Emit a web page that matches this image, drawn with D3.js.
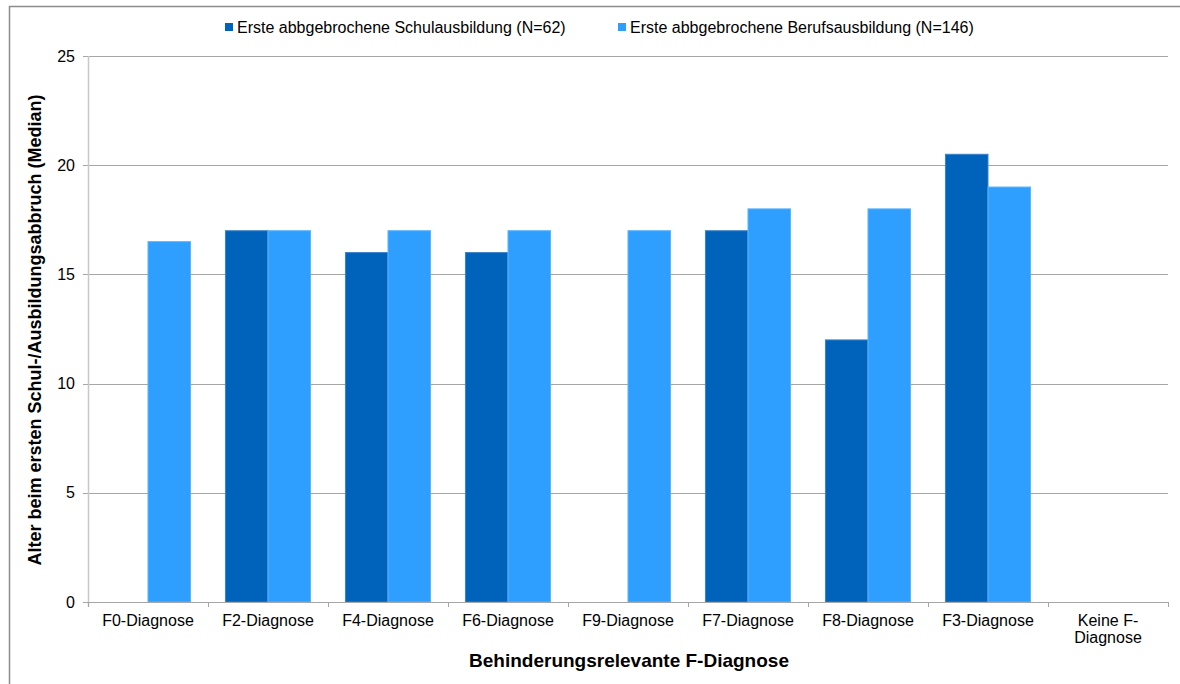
<!DOCTYPE html>
<html>
<head>
<meta charset="utf-8">
<script src="https://cdn.jsdelivr.net/npm/d3@7"></script>
<style>
  body { margin: 0; background: #fff; }
  text { font-family: "Liberation Sans", Arial, sans-serif; fill: #000; }
</style>
</head>
<body>
<svg id="chart" width="1180" height="684"></svg>
<script>
// Kategorien und Werte (Median)
var kategorien = ["F0-Diagnose", "F2-Diagnose", "F4-Diagnose", "F6-Diagnose", "F9-Diagnose",
                  "F7-Diagnose", "F8-Diagnose", "F3-Diagnose", "Keine F-Diagnose"];
var schule = [null, 17, 16, 16, null, 17, 12, 20.5, null];
var beruf = [16.5, 17, 17, 17, 17, 18, 18, 19, null];
var serien = ["Erste abbgebrochene Schulausbildung (N=62)", "Erste abbgebrochene Berufsausbildung (N=146)"];
var farben = ["#0063bb", "#2e9eff"];
var yTicks = [0, 5, 10, 15, 20, 25];

var svg = d3.select("#chart");

// Rahmen
svg.append("rect")
    .attr("x", 9.5).attr("y", 6.5)
    .attr("width", 1200).attr("height", 700)
    .attr("fill", "none")
    .attr("stroke", "#8c8c8c")
    .attr("stroke-width", 1.5);

var pLeft = 88, pRight = 1168, pTop = 56, pBottom = 602;

var x = d3.scaleBand().domain(kategorien).range([pLeft, pRight]).paddingInner(0).paddingOuter(0);
var x1 = d3.scaleBand().domain([0, 1]).range([0, x.bandwidth()]).paddingOuter(0.41).paddingInner(0);
var y = d3.scaleLinear().domain([0, 25]).range([pBottom, pTop]);

// Gitterlinien
svg.append("g").selectAll("line")
    .data(yTicks.filter(function(d){ return d > 0; }))
    .enter().append("line")
    .attr("x1", pLeft - 5).attr("x2", pRight)
    .attr("y1", function(d){ return Math.round(y(d)) + 0.5; })
    .attr("y2", function(d){ return Math.round(y(d)) + 0.5; })
    .attr("stroke", "#a6a6a6");

// Y-Achse
svg.append("line")
    .attr("x1", pLeft + 0.5).attr("x2", pLeft + 0.5)
    .attr("y1", pTop).attr("y2", pBottom + 5)
    .attr("stroke", "#c8c8c8").attr("stroke-width", 1.5);

svg.append("g").selectAll("text")
    .data(yTicks)
    .enter().append("text")
    .attr("x", 75)
    .attr("y", function(d){ return y(d); })
    .attr("dy", "0.35em")
    .attr("text-anchor", "end")
    .attr("font-size", "16px")
    .text(function(d){ return d; });

// Balken
var daten = [];
kategorien.forEach(function(k, i) {
    [schule[i], beruf[i]].forEach(function(v, s) {
        if (v != null) daten.push({ kat: k, serie: s, wert: v });
    });
});

svg.append("g").selectAll("rect")
    .data(daten)
    .enter().append("rect")
    .attr("x", function(d){ return x(d.kat) + x1(d.serie); })
    .attr("y", function(d){ return y(d.wert); })
    .attr("width", x1.bandwidth())
    .attr("height", function(d){ return pBottom - y(d.wert); })
    .attr("fill", function(d){ return farben[d.serie]; })
    .attr("stroke", function(d){ return d.serie == 0 ? "#3d82c8" : "#5ab4ff"; })
    .attr("stroke-width", 1);

// X-Achse
svg.append("line")
    .attr("x1", pLeft - 5).attr("x2", pRight)
    .attr("y1", pBottom + 0.5).attr("y2", pBottom + 0.5)
    .attr("stroke", "#a6a6a6");

svg.append("g").selectAll("line")
    .data(kategorien.concat(["ende"]))
    .enter().append("line")
    .attr("x1", function(d, i){ return pLeft + i * x.bandwidth() + 0.5; })
    .attr("x2", function(d, i){ return pLeft + i * x.bandwidth() + 0.5; })
    .attr("y1", pBottom).attr("y2", pBottom + 5)
    .attr("stroke", "#a6a6a6");

var xl = svg.append("g").selectAll("text")
    .data(kategorien)
    .enter().append("text")
    .attr("x", function(d){ return x(d) + x.bandwidth() / 2; })
    .attr("y", 626)
    .attr("text-anchor", "middle")
    .attr("font-size", "16px");

xl.each(function(d) {
    var zeilen = d == "Keine F-Diagnose" ? ["Keine F-", "Diagnose"] : [d];
    var t = d3.select(this);
    zeilen.forEach(function(z, i) {
        t.append("tspan")
            .attr("x", x(d) + x.bandwidth() / 2)
            .attr("dy", i == 0 ? 0 : 17)
            .text(z);
    });
});

// Achsentitel
svg.append("text")
    .attr("x", 629).attr("y", 667)
    .attr("text-anchor", "middle")
    .attr("font-size", "19px")
    .attr("font-weight", "bold")
    .text("Behinderungsrelevante F-Diagnose");

svg.append("text")
    .attr("transform", "translate(41,330) rotate(-90)")
    .attr("text-anchor", "middle")
    .attr("font-size", "18px")
    .attr("font-weight", "bold")
    .text("Alter beim ersten Schul-/Ausbildungsabbruch (Median)");

// Legende
var legX = [225, 618];
var leg = svg.append("g").selectAll("g")
    .data(serien)
    .enter().append("g")
    .attr("transform", function(d, i){ return "translate(" + legX[i] + ",23)"; });

leg.append("rect")
    .attr("width", 8).attr("height", 8)
    .attr("fill", function(d, i){ return farben[i]; });

leg.append("text")
    .attr("x", 12).attr("y", 4)
    .attr("dy", "0.35em")
    .attr("font-size", "16px")
    .text(function(d){ return d; });
</script>
</body>
</html>
